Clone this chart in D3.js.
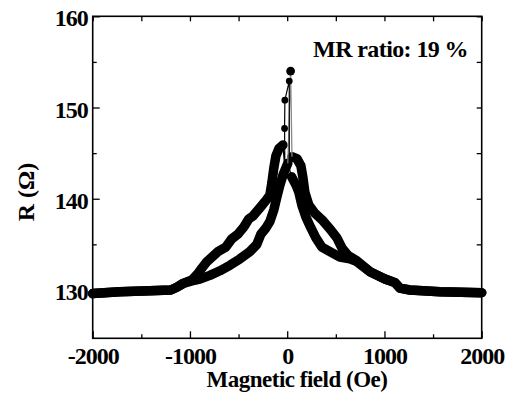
<!DOCTYPE html>
<html>
<head>
<meta charset="utf-8">
<script src="https://cdn.jsdelivr.net/npm/d3@7"></script>
<style>
  body { margin: 0; background: #fff; }
</style>
</head>
<body>
<svg id="chart" width="510" height="394"></svg>
<script>
// field sweep -2000 -> +2000 (Oe, Ohm)
const upLeft = [
  [-2000, 129.6], [-1722, 129.8], [-1413, 129.9], [-1197, 130.0], [-1135, 130.3],
  [-1073, 130.7], [-981, 131.0], [-898, 131.2], [-795, 131.6], [-692, 132.1],
  [-590, 132.7], [-487, 133.4], [-384, 134.2], [-312, 135.0], [-271, 136.1],
  [-219, 136.8], [-178, 137.5], [-137, 138.8], [-106, 140.2], [-75, 141.5],
  [-44, 142.6], [-13, 143.4], [7, 143.9]
];
const upSpike = [[7, 143.9], [35, 154.0], [49, 144.6]];
const upRight = [
  [49, 144.6], [100, 144.4], [141, 143.6], [162, 142.3], [182, 140.7],
  [223, 139.3], [285, 138.4], [357, 137.7], [439, 136.7], [511, 135.7],
  [563, 134.6], [624, 133.8], [717, 133.2], [851, 132.0], [1005, 131.2],
  [1108, 130.8], [1159, 130.2], [1262, 130.0], [1570, 129.8], [2000, 129.7]
];

// field sweep +2000 -> -2000
const downRight = [
  [2000, 129.7], [1570, 129.8], [1262, 130.0], [1159, 130.2], [1108, 130.8],
  [1005, 131.2], [851, 132.0], [717, 133.1], [645, 133.4], [542, 133.6],
  [439, 134.2], [357, 134.7], [295, 135.7], [244, 136.8], [192, 138.0],
  [151, 139.3], [120, 140.7], [90, 141.5], [45, 142.4]
];
const downSpike = [[45, 142.4], [22, 143.3], [21, 152.9], [-24, 150.8], [-27, 147.7], [-24, 143.2], [-44, 145.9]];
const downLeft = [
  [-44, 145.9], [-85, 145.5], [-116, 144.7], [-137, 143.4], [-157, 141.8],
  [-178, 140.4], [-219, 139.8], [-281, 139.0], [-353, 138.1], [-394, 137.8],
  [-446, 136.9], [-508, 136.1], [-570, 135.6], [-631, 134.7], [-713, 134.2],
  [-764, 133.7], [-826, 133.1], [-877, 132.4], [-918, 131.8], [-980, 131.1],
  [-1073, 130.7], [-1135, 130.3], [-1197, 130.0], [-1413, 129.9], [-1722, 129.8],
  [-2000, 129.6]
];

const xMajor = [-2000, -1000, 0, 1000, 2000];
const xMinor = [-1500, -500, 500, 1500];
const yMajor = [130, 140, 150, 160];
const yMinor = [135, 145, 155];

const serif = "'Liberation Serif', 'Times New Roman', serif";
const svg = d3.select("#chart");
const plot = { left: 92.7, right: 481.7, top: 16.3, bottom: 338.3 };

const x = d3.scaleLinear().domain([-2000, 2000]).range([plot.left, plot.right]);
const y = d3.scaleLinear().domain([124.7, 160]).range([plot.bottom, plot.top]);

const line = d3.line().x(d => x(d[0])).y(d => y(d[1]));

// thick bands of dense points
const bands = [upLeft, upRight, downRight, downLeft];
svg.append("g")
  .selectAll("path")
  .data(bands)
  .enter().append("path")
  .attr("d", line)
  .attr("fill", "none")
  .attr("stroke", "#000")
  .attr("stroke-width", 9.5)
  .attr("stroke-linejoin", "round")
  .attr("stroke-linecap", "round");

// sparse points near zero field
svg.append("path").datum(upSpike).attr("d", line)
  .attr("fill", "none").attr("stroke", "#888").attr("stroke-width", 1.3);
svg.append("path").datum(downSpike).attr("d", line)
  .attr("fill", "none").attr("stroke", "#000").attr("stroke-width", 1.2);

const spikeDots = upSpike.slice(1, 2).concat(downSpike.slice(2, 5));
const rMax = d3.max(spikeDots, d => d[1]);
svg.append("g")
  .selectAll("circle")
  .data(spikeDots)
  .enter().append("circle")
  .attr("cx", d => x(d[0]))
  .attr("cy", d => y(d[1]))
  .attr("r", d => d[1] === rMax ? 4.4 : 3.4)
  .attr("fill", "#000");

// axes
svg.append("g")
  .attr("class", "lab")
  .attr("transform", "translate(0," + plot.bottom + ")")
  .call(d3.axisBottom(x).tickValues(xMajor).tickSizeInner(-7).tickSizeOuter(0).tickPadding(9).tickFormat(d => String(d)));
svg.append("g")
  .attr("transform", "translate(0," + plot.bottom + ")")
  .call(d3.axisBottom(x).tickValues(xMinor).tickSizeInner(-4).tickSizeOuter(0).tickFormat(""));

svg.append("g")
  .attr("class", "lab ylab")
  .attr("transform", "translate(" + plot.left + ",0)")
  .call(d3.axisLeft(y).tickValues(yMajor).tickSizeInner(-7).tickSizeOuter(0).tickPadding(5));
svg.append("g")
  .attr("transform", "translate(" + plot.left + ",0)")
  .call(d3.axisLeft(y).tickValues(yMinor).tickSizeInner(-4).tickSizeOuter(0).tickFormat(""));

svg.append("g")
  .attr("transform", "translate(0," + plot.top + ")")
  .call(d3.axisTop(x).tickValues(xMajor.concat(xMinor)).tickSizeInner(-5).tickSizeOuter(0).tickFormat(""));
svg.append("g")
  .attr("transform", "translate(" + plot.right + ",0)")
  .call(d3.axisRight(y).tickValues(yMajor.concat(yMinor)).tickSizeInner(-5).tickSizeOuter(0).tickFormat(""));

svg.selectAll(".domain").remove();
svg.selectAll(".tick line").attr("stroke", "#000").attr("stroke-width", 1.3);

// frame
svg.append("rect")
  .attr("x", plot.left).attr("y", plot.top)
  .attr("width", plot.right - plot.left).attr("height", plot.bottom - plot.top)
  .attr("fill", "none").attr("stroke", "#000").attr("stroke-width", 1.6);

svg.selectAll("g.lab")
  .attr("font-family", serif)
  .attr("font-size", 24)
  .attr("font-weight", "bold");
svg.selectAll(".lab .tick text")
  .attr("fill", "#000")
  .attr("letter-spacing", -1);
svg.selectAll(".ylab .tick text").attr("dy", "0.4em");

// titles
svg.append("text")
  .attr("x", 297).attr("y", 387)
  .attr("text-anchor", "middle")
  .attr("font-family", serif).attr("font-weight", "bold")
  .attr("font-size", 23)
  .attr("letter-spacing", -0.5)
  .text("Magnetic field (Oe)");

svg.append("text")
  .attr("transform", "translate(34,192) rotate(-90)")
  .attr("text-anchor", "middle")
  .attr("font-family", serif).attr("font-weight", "bold")
  .attr("font-size", 24)
  .text("R (Ω)");

svg.append("text")
  .attr("x", 468).attr("y", 57)
  .attr("text-anchor", "end")
  .attr("font-family", serif).attr("font-weight", "bold")
  .attr("font-size", 24)
  .attr("letter-spacing", -0.6)
  .text("MR ratio: 19 %");
</script>
</body>
</html>
